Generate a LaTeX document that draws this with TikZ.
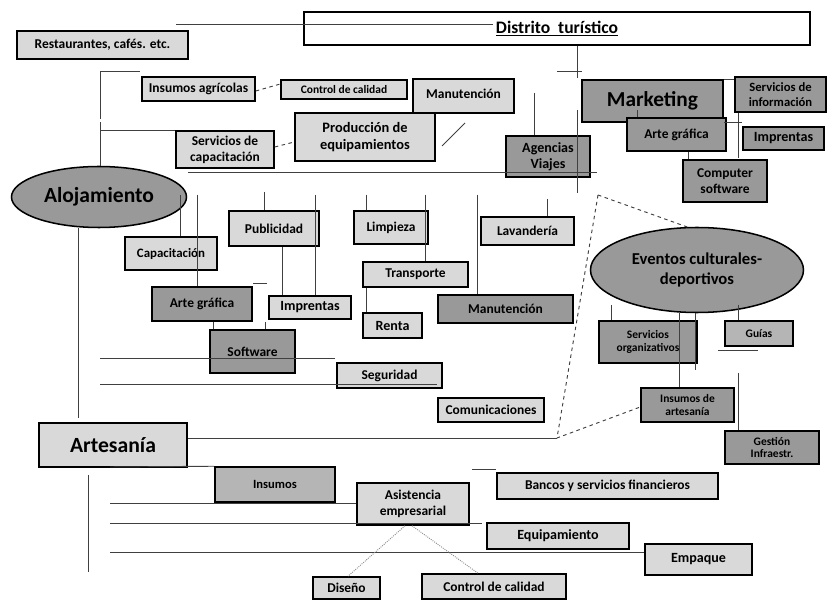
\documentclass[tikz,border=0pt]{standalone}
\usepackage{fontspec}
\setmainfont{Carlito}
\usetikzlibrary{shapes.geometric}

\begin{document}
\begin{tikzpicture}[x=0.03cm, y=-0.03cm,
    lite/.style = {rectangle, draw=black, line width=1.3pt, fill=gray!30, inner sep=0pt, align=center, font=\bfseries\fontsize{11.5}{13.5}\selectfont},
    dark/.style = {lite, fill=gray!80},
    half/.style = {lite, fill=gray!58},
    oval/.style = {ellipse, draw=black, line width=1.3pt, fill=gray!80, inner sep=0pt, align=center},
    sz/.style 2 args = {minimum width=#1cm, minimum height=#2cm},
    small/.style = {font=\bfseries\fontsize{9.8}{11}\selectfont},
    big/.style = {font=\bfseries\fontsize{12}{14}\selectfont},
    link/.style = {draw=black!75, line width=0.8pt},
    dashlink/.style = {link, dashed},
    dotlink/.style = {link, densely dotted, draw=black!45}]
    \useasboundingbox (0,0) rectangle (830,600);

    % top row
    \node[lite, fill=white, sz={15.18}{0.99}, font=\bfseries\fontsize{15}{17}\selectfont] (dist) at (557,28.5) {\underline{Distrito~~turístico}};
    \node[lite, sz={5.13}{0.84}] (rest) at (102.5,45) {Restaurantes, cafés. etc.};
    \node[lite, sz={3.39}{0.72}] (insagr) at (198.5,89) {Insumos agrícolas};
    \node[lite, sz={3.78}{0.57}, small] (ctrlA) at (344,89.5) {Control de calidad};
    \node[lite, sz={3.03}{1.02}] (manuA) at (463.5,96) {\raisebox{4pt}{Manutención}};
    \node[lite, sz={2.94}{1.11}] (capserv) at (225,149.5) {Servicios de\\capacitación};
    \node[lite, sz={4.2}{1.44}, font=\bfseries\fontsize{12.3}{14.5}\selectfont] (prod) at (365,137) {Producción de\\equipamientos};
    \node[dark, sz={2.52}{1.23}, big] (agen) at (548,156.5) {Agencias\\Viajes};

    % marketing
    \node[dark, sz={4.23}{1.26}, font=\bfseries\fontsize{18.2}{21}\selectfont] (mkt) at (652.5,101) {Marketing};
    \node[dark, sz={2.97}{0.99}] (arteB) at (676.5,134.5) {Arte gráfica};
    \node[dark, sz={2.73}{1.05}, font=\bfseries\fontsize{10.8}{12.5}\selectfont] (sinfo) at (780.5,94.5) {Servicios de\\información};
    \node[dark, sz={2.43}{0.69}, big] (imprB) at (783.5,138.5) {Imprentas};
    \node[dark, sz={2.52}{1.26}] (comp) at (725,181) {Computer\\software};

    % alojamiento
    \node[oval, sz={5.25}{1.83}, font=\bfseries\fontsize{18.4}{21}\selectfont] (aloj) at (99,197) {Alojamiento};
    \node[lite, sz={2.76}{0.99}, font=\bfseries\fontsize{11}{13}\selectfont] (capac) at (171,253.5) {Capacitación};
    \node[lite, sz={2.7}{1.05}] (publ) at (274,228.5) {Publicidad};
    \node[dark, sz={3.0}{1.02}] (arteA) at (202,304) {Arte gráfica};
    \node[lite, sz={2.46}{0.69}, big] (imprA) at (310,307.5) {Imprentas};
    \node[dark, sz={2.55}{1.29}] (soft) at (252.5,351.5) {Software};
    \node[lite, sz={3.15}{0.75}] (segur) at (389.5,375.5) {Seguridad};
    \node[lite, sz={2.22}{0.99}] (limp) at (391,227.5) {Limpieza};
    \node[lite, sz={3.15}{0.75}] (transp) at (415.5,274.5) {Transporte};
    \node[lite, sz={1.77}{0.75}, big] (renta) at (392.5,325.5) {Renta};
    \node[dark, sz={4.05}{0.84}] (manuB) at (505.5,309) {Manutención};
    \node[lite, sz={2.79}{0.84}] (lavan) at (527.5,231) {Lavandería};
    \node[lite, sz={3.18}{0.72}] (comun) at (491,410) {Comunicaciones};

    % eventos
    \node[oval, sz={6.39}{2.55}, font=\bfseries\fontsize{14.2}{17}\selectfont] (event) at (697,270) {Eventos culturales-\\deportivos};
    \node[dark, sz={2.94}{1.26}, small] (sorg) at (648,342) {Servicios\\organizativos};
    \node[half, sz={2.04}{0.75}, small] (guias) at (759,333.5) {Guías};
    \node[dark, sz={2.79}{1.02}, small] (insart) at (687.5,405) {Insumos de\\artesanía};
    \node[dark, sz={2.82}{0.99}, small] (gest) at (772,447.5) {Gestión\\Infraestr.};

    % artesania
    \node[lite, sz={4.44}{1.32}, font=\bfseries\fontsize{18.5}{21}\selectfont] (artes) at (113,445) {Artesanía};
    \node[half, sz={3.6}{1.05}, font=\bfseries\fontsize{10.7}{12.5}\selectfont] (insum) at (275,484.5) {Insumos};
    \node[lite, sz={3.36}{1.26}] (asist) at (413,504) {Asistencia\\empresarial};
    \node[lite, sz={6.63}{0.78}] (bancos) at (607.5,486) {Bancos y servicios financieros};
    \node[lite, sz={4.26}{0.78}, big] (equip) at (558,536) {Equipamiento};
    \node[lite, sz={3.21}{0.93}, big] (empaq) at (698.5,559.5) {Empaque};
    \node[lite, sz={2.01}{0.66}] (disen) at (346.5,588) {Diseño};
    \node[lite, sz={4.32}{0.75}] (ctrlB) at (494,586.5) {Control de calidad};

    % free ends
    \coordinate (t1) at (176,24);
    \coordinate (t2) at (493,24);
    \coordinate (d1) at (577,78);
    \coordinate (l1) at (140,71);
    \coordinate (l2) at (100,71);
    \coordinate (l3) at (100,119);
    \coordinate (l4) at (100,122);
    \coordinate (l5) at (100,130);
    \coordinate (h1) at (188,172);
    \coordinate (h2) at (597,172);
    \coordinate (v1) at (577,110);
    \coordinate (v2) at (577,193);
    \coordinate (pk) at (598,195);
    \coordinate (pa) at (557,438);
    \coordinate (ra) at (110,467);
    \coordinate (ra1) at (110,503);
    \coordinate (ra2) at (110,523);
    \coordinate (ra3) at (110,552);

    % top lines
    \draw[link] (t1) -- (t2);
    \draw[link] (dist.south -| d1) -- (d1);
    \draw[link] (557,71) -- (582,71);
    \draw[link] (l1) -- (l2) -- (l3);
    \draw[link] (l4) -- (aloj.north -| l4);
    \draw[link] (l5) -- (capserv.north west |- l5);
    \draw[dashlink] (insagr.east |- 0,91) -- (ctrlA.west |- 0,84);
    \draw[dashlink] (capserv.east |- 0,147) -- (prod.west |- 0,142);
    \draw[link] (442,146) -- (465,123);
    \draw[link] (h1) -- (h2);
    \draw[link] (534,93) -- (534,0 |- agen.north);
    \draw[link] (v1) -- (v2);
    \draw[link] (mkt.north east |- 0,79) -- (sinfo.north west |- 0,79);
    \draw[link] (637,110) -- (637,0 |- arteB.north);
    \draw[link] (738,0 |- sinfo.south) -- (738,158);
    \draw[link] (mkt.east |- 0,122) -- (742,122);
    \draw[link] (688,0 |- arteB.south) -- (688,0 |- comp.north);

    % alojamiento lines
    \draw[link] (180,195) -- (180,0 |- capac.north);
    \draw[link] (197,195) -- (197,0 |- arteA.north);
    \draw[link] (264,192) -- (264,0 |- publ.north);
    \draw[link] (315,195) -- (315,0 |- imprA.north);
    \draw[link] (282,0 |- publ.south) -- (282,0 |- imprA.north);
    \draw[link] (253,283) -- (267,283);
    \draw[link] (213,0 |- arteA.south) -- (213,0 |- soft.north);
    \draw[link] (265,322) -- (265,0 |- soft.north);
    \draw[link] (100,358) -- (335,358);
    \draw[link] (100,384) -- (437,384);
    \draw[link] (366,195) -- (366,0 |- limp.north);
    \draw[link] (425,195) -- (425,0 |- transp.north);
    \draw[link] (366,0 |- transp.south) -- (366,0 |- renta.north);
    \draw[link] (477,195) -- (477,0 |- manuB.north);
    \draw[link] (547,199) -- (547,0 |- lavan.north);
    \draw[link] (aloj.south -| 78,0) -- (78,418);

    % eventos lines
    \draw[link] (artes.east |- pa) -- (pa);
    \draw[dashlink] (pk) -- (690,228);
    \draw[dashlink] (pk) -- (pa) -- (insart.west |- 0,407);
    \draw[link] (611,305) -- (611,0 |- sorg.north);
    \draw[link] (679,313) -- (679,0 |- insart.north);
    \draw[link] (695,313) -- (695,370);
    \draw[link] (738,305) -- (738,0 |- guias.north);
    \draw[link] (718,350) -- (758,350);
    \draw[link] (738,373) -- (738,0 |- gest.north);

    % artesania lines
    \draw[link] (ra) -- (insum.north west);
    \draw[link] (88,475) -- (88,572);
    \draw[link] (ra1) -- (asist.west |- ra1);
    \draw[link] (ra2) -- (482,523);
    \draw[link] (ra3) -- (empaq.west |- ra3);
    \draw[link] (472,469) -- (496,469);
    \draw[dotlink] (405,0 |- asist.south) -- (348,0 |- disen.north);
    \draw[dotlink] (412,0 |- asist.south) -- (478,0 |- ctrlB.north);
\end{tikzpicture}
\end{document}
